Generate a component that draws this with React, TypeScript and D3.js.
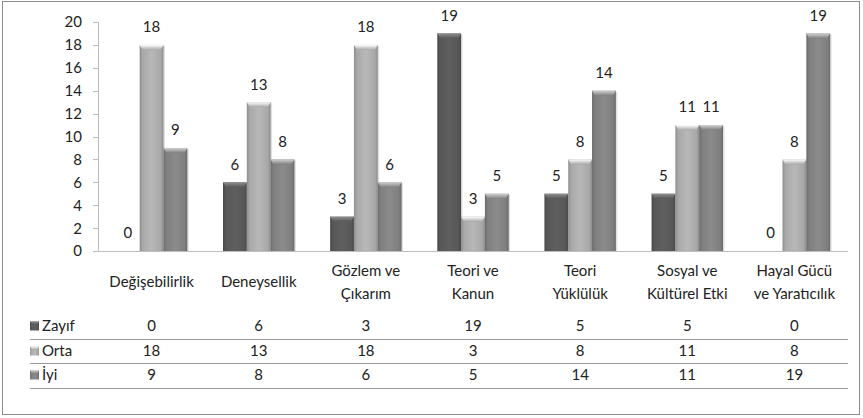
import React from "react";
import * as d3 from "d3";

const categories: string[][] = [
  ["Değişebilirlik"],
  ["Deneysellik"],
  ["Gözlem ve", "Çıkarım"],
  ["Teori ve", "Kanun"],
  ["Teori", "Yüklülük"],
  ["Sosyal ve", "Kültürel Etki"],
  ["Hayal Gücü", "ve Yaratıcılık"],
];
const seriesNames = ["Zayıf", "Orta", "İyi"];
const zayif = [0, 6, 3, 19, 5, 5, 0];
const orta = [18, 13, 18, 3, 8, 11, 8];
const iyi = [9, 8, 6, 5, 14, 11, 19];
const yTicks = [0, 2, 4, 6, 8, 10, 12, 14, 16, 18, 20];

const seriesValues = [zayif, orta, iyi];
const baseColors = ["#575757", "#a8a8a8", "#7f7f7f"];

const W = 863;
const H = 418;
const FONT = "Lato, 'Noto Sans', sans-serif";

export default function App() {
  const left = 98;
  const right = 848;
  const top = 22;
  const bottom = 251;
  const y = d3.scaleLinear().domain([0, 20]).range([bottom, top]);
  const x0 = d3
    .scaleBand<number>()
    .domain(categories.map((_, i) => i))
    .range([left, right])
    .padding(0);
  const x1 = d3
    .scaleBand<number>()
    .domain([0, 1, 2])
    .range([0, x0.bandwidth()])
    .paddingInner(0)
    .paddingOuter(0.75);
  const bw = x1.bandwidth();

  const rowY = [326, 351, 375];
  const lineY = [339, 363, 388];

  return (
    <div style={{ position: "absolute", left: 0, top: 0 }}>
      <svg width={W} height={H} style={{ display: "block", fontFamily: FONT }}>
        <defs>
          {baseColors.map((c, s) => {
            const dc = d3.color(c)!.darker(0.5).formatHex();
            const lc = d3.color(c)!.brighter(0.25).formatHex();
            const tl = d3.color(c)!.brighter(1.4).formatHex();
            return (
              <React.Fragment key={s}>
                <linearGradient id={`body${s}`} x1="0" x2="1" y1="0" y2="0">
                  <stop offset="0" stopColor={dc} />
                  <stop offset="0.12" stopColor={c} />
                  <stop offset="0.5" stopColor={lc} />
                  <stop offset="0.88" stopColor={c} />
                  <stop offset="1" stopColor={dc} />
                </linearGradient>
                <linearGradient id={`top${s}`} x1="0" x2="0" y1="0" y2="1">
                  <stop offset="0" stopColor={tl} />
                  <stop offset="1" stopColor={c} />
                </linearGradient>
              </React.Fragment>
            );
          })}
        </defs>
        <rect x={2.5} y={1.5} width={857} height={413} fill="#fff" stroke="#8c8c8c" strokeWidth={1} />

        {/* y axis */}
        <line x1={left + 0.5} x2={left + 0.5} y1={top} y2={bottom} stroke="#bdbdbd" />
        {yTicks.map((t) => (
          <g key={t}>
            <line x1={left - 5} x2={left} y1={Math.round(y(t)) + 0.5} y2={Math.round(y(t)) + 0.5} stroke="#bdbdbd" />
            <text x={82} y={y(t)} dy="0.36em" textAnchor="end" fontSize={15} fill="#222">
              {t}
            </text>
          </g>
        ))}

        {/* bars */}
        {categories.map((_, i) =>
          seriesValues.map((vals, s) => {
            const v = vals[i];
            const bx = x0(i)! + x1(s)!;
            const by = y(v);
            const h = bottom - by;
            const bev = Math.min(5, h);
            return (
              <g key={`${i}-${s}`}>
                {h > 0 && (
                  <>
                    <rect x={bx + 1.5} y={by + 1} width={bw} height={h} fill="#000" opacity={0.12} />
                    <rect x={bx} y={by} width={bw} height={h} fill={`url(#body${s})`} />
                    <polygon
                      points={`${bx},${by} ${bx + bw},${by} ${bx + bw - 3},${by + bev} ${bx + 3},${by + bev}`}
                      fill={`url(#top${s})`}
                    />
                  </>
                )}
                <text x={bx + bw / 2} y={by - 12.6} textAnchor="middle" fontSize={15} fill="#222">
                  {v}
                </text>
              </g>
            );
          })
        )}

        {/* x axis */}
        <line x1={left} x2={right} y1={bottom + 0.5} y2={bottom + 0.5} stroke="#bdbdbd" />

        {/* category labels */}
        {categories.map((lines, i) => {
          const cx = x0(i)! + x0.bandwidth() / 2;
          const ys = lines.length === 1 ? [282] : [270.5, 293.5];
          return lines.map((l, k) => (
            <text key={`${i}-${k}`} x={cx} y={ys[k]} dy="0.36em" textAnchor="middle" fontSize={15} fill="#222">
              {l}
            </text>
          ));
        })}

        {/* data table */}
        {lineY.map((ly, k) => (
          <line key={k} x1={30} x2={right} y1={ly + 0.5} y2={ly + 0.5} stroke="#9a9a9a" />
        ))}
        {seriesNames.map((name, s) => (
          <g key={name}>
            <rect x={30} y={rowY[s] - 4.5} width={9} height={9} fill={`url(#body${s})`} />
            <polygon
              points={`${30},${rowY[s] - 4.5} ${39},${rowY[s] - 4.5} ${37},${rowY[s] - 1.5} ${32},${rowY[s] - 1.5}`}
              fill={`url(#top${s})`}
            />
            <text x={42} y={rowY[s]} dy="0.36em" fontSize={15} fill="#222">
              {name}
            </text>
            {seriesValues[s].map((v, i) => (
              <text
                key={i}
                x={x0(i)! + x0.bandwidth() / 2}
                y={rowY[s]}
                dy="0.36em"
                textAnchor="middle"
                fontSize={15}
                fill="#222"
              >
                {v}
              </text>
            ))}
          </g>
        ))}
      </svg>
    </div>
  );
}
